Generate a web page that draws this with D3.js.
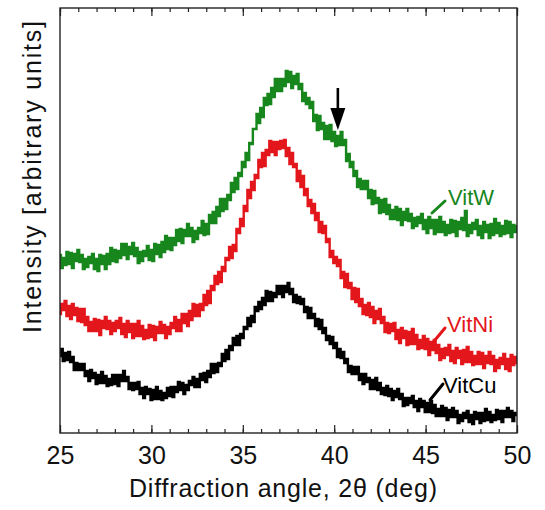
<!DOCTYPE html>
<html>
<head>
<meta charset="utf-8">
<script src="https://cdn.jsdelivr.net/npm/d3@7"></script>
<style>
  html, body { margin: 0; padding: 0; background: #fff; }
  svg { display: block; }
  text { font-family: "Liberation Sans", Arial, sans-serif; }
</style>
</head>
<body>
<svg id="chart" width="545" height="510"></svg>
<script>
// ---- data (2θ from 25 to 50 deg, step 0.1 deg; intensities in arbitrary units, offset stack) ----
const angleStart = 25, angleStep = 0.1;
const xTicks = [25, 30, 35, 40, 45, 50];

const vitW = [
178,165,175,168,181, 169,180,165,179,172, 183,171,178,164,174, 166,176,170,179,164,
174,162,178,169,177, 164,179,169,185,172, 183,171,182,175,189, 178,189,174,186,179,
190,177,185,170,181, 172,182,177,187,173, 183,172,189,179,188, 176,191,181,197,184,
195,183,195,188,203, 192,204,190,203,197, 209,197,205,191,202, 194,205,200,212,198,
209,199,218,210,221, 210,226,217,234,222, 234,224,238,233,250, 241,255,244,260,257,
271,266,280,273,290, 289,304,304,319,310, 325,316,335,328,339, 329,345,336,354,342,
354,342,354,347,362, 351,361,345,357,349, 359,344,349,332,340, 329,335,325,331,312,
318,303,317,304,310, 294,307,294,308,292, 301,287,297,288,301, 288,293,272,279,266,
271,257,262,246,254, 244,252,244,252,235, 243,229,242,230,235, 220,233,221,234,219,
228,214,223,214,226, 213,224,208,221,213, 224,212,219,205,215, 207,216,210,219,204,
213,200,216,205,213, 199,213,201,216,201, 211,198,208,200,213, 201,212,197,211,204,
215,203,222,197,208, 200,210,204,213,198, 207,195,211,201,208, 195,209,198,214,200,
210,197,207,199,212, 200,211,196,208,201, 207];

const vitNi = [
119,129,123,132,117, 127,114,129,118,125, 112,124,111,124,108, 116,102,111,102,114,
102,113,98,112,105, 116,104,112,99,110, 102,112,105,115,99, 109,96,112,101,109,
95,109,97,112,97, 107,94,103,95,108, 96,107,93,106,100, 111,100,108,95,106,
99,110,105,116,102, 113,102,119,110,119, 107,122,113,129,117, 128,117,129,123,138,
128,142,130,147,143, 157,149,161,151,166, 162,175,173,186,175, 188,182,204,200,214,
207,227,222,243,235, 251,243,258,255,273, 266,280,267,283,278, 292,281,291,278,291,
284,292,285,293,277, 285,269,280,266,269, 252,262,246,257,238, 244,227,233,220,229,
213,220,201,211,200, 207,191,194,176,182, 170,176,167,173,155, 161,146,159,145,150,
134,145,131,144,127, 134,119,128,118,130, 116,126,110,122,114, 124,110,116,101,110,
100,109,102,110,94, 103,90,105,95,102, 88,101,89,104,89, 98,84,93,85,97,
84,94,78,91,83, 93,80,88,73,84, 75,85,78,88,72, 82,70,85,75,82,
69,83,71,86,71, 81,68,77,69,81, 69,80,65,77,70, 81,69,77,62,73,
65,75,69,79,64, 74,62,78,68,76, 70];

const vitCu = [
77,84,72,80,73, 81,71,76,63,70, 63,69,63,69,57, 62,52,63,55,60,
49,58,50,61,50, 57,47,54,48,58, 49,58,47,58,52, 62,52,56,44,50,
43,50,44,51,39, 45,35,46,39,44, 33,43,34,46,34, 42,33,40,35,45,
37,46,36,46,41, 51,43,50,39,48, 43,52,48,56,46, 54,46,59,53,60,
51,62,56,69,60, 69,61,70,67,79, 72,83,74,87,83, 95,88,97,88,99,
95,106,104,115,107, 117,111,126,122,131, 124,135,128,142,132, 141,132,140,136,147,
139,147,136,147,141, 150,139,144,131,138, 130,136,129,134,121, 126,115,125,115,119,
107,114,104,113,100, 105,93,97,89,96, 85,90,76,84,75, 81,70,74,61,67,
59,66,59,66,53, 59,49,59,51,55, 44,53,44,55,43, 50,39,45,38,47,
37,44,33,42,36, 44,34,39,27,35, 28,35,30,37,26, 32,22,34,26,32,
21,30,21,32,20, 28,17,24,17,27, 17,25,13,23,16, 25,16,22,10,18,
12,20,15,22,11, 18,9,21,14,20, 10,20,12,24,13, 21,11,18,13,23,
14,22,11,22,16, 25,16,22,12,20, 18];

const seriesNames = ["VitW", "VitNi", "VitCu"];
const seriesColors = ["#17861c", "#e3161b", "#000000"];
const arrowMark = {x: 40.2, yTop: 345, yTip: 303};

// ---- layout ----
const svg = d3.select("#chart");
const L = 60, R = 517, T = 8, B = 433;
const x = d3.scaleLinear().domain([25, 50]).range([L, R]);
const y = d3.scaleLinear().domain([0, 425]).range([B, T]);

const series = [vitW, vitNi, vitCu];

const line = d3.line()
  .curve(d3.curveStep)
  .x((d, i) => x(angleStart + i * angleStep))
  .y(d => y(d));

const g = svg.append("g");

svg.append("defs").append("clipPath").attr("id", "clip")
  .append("rect").attr("x", L).attr("y", T).attr("width", R - L).attr("height", B - T);

const plot = g.append("g").attr("clip-path", "url(#clip)");
series.forEach((s, k) => {
  plot.append("path")
    .datum(s)
    .attr("d", line)
    .attr("fill", "none")
    .attr("stroke", seriesColors[k])
    .attr("stroke-width", 2.4)
    .attr("stroke-linejoin", "miter");
});

// frame
g.append("rect")
  .attr("x", L).attr("y", T).attr("width", R - L).attr("height", B - T)
  .attr("fill", "none").attr("stroke", "#222").attr("stroke-width", 1.4);

// x axes (bottom + top), inward ticks
const minor = d3.range(25, 50.001, 1);
const axB = d3.axisBottom(x).tickValues(minor).tickSize(-4).tickFormat("");
const axBMaj = d3.axisBottom(x).tickValues(xTicks).tickSize(-8).tickPadding(13).tickFormat(d3.format("d"));
const axT = d3.axisTop(x).tickValues(minor).tickSize(-4).tickFormat("");
const axTMaj = d3.axisTop(x).tickValues(xTicks).tickSize(-8).tickFormat("");

[ [axB, B], [axBMaj, B], [axT, T], [axTMaj, T] ].forEach(([ax, ty]) => {
  const a = g.append("g").attr("transform", `translate(0,${ty})`).call(ax);
  a.select(".domain").remove();
  a.selectAll(".tick line").attr("stroke", "#222").attr("stroke-width", 1.2);
  a.selectAll("text").attr("font-size", 25).attr("fill", "#111")
    .attr("font-family", '"Liberation Sans", Arial, sans-serif');
});

// axis titles
g.append("text")
  .attr("x", 283).attr("y", 497)
  .attr("text-anchor", "middle")
  .attr("font-size", 25).attr("fill", "#111")
  .attr("textLength", 308).attr("lengthAdjust", "spacing")
  .text("Diffraction angle, 2\u03B8 (deg)");

g.append("text")
  .attr("transform", "translate(41,177) rotate(-90)")
  .attr("text-anchor", "middle")
  .attr("font-size", 25).attr("fill", "#111")
  .attr("textLength", 312).attr("lengthAdjust", "spacing")
  .text("Intensity [arbitrary units]");

// series labels with leader lines
const leaderPix = [
  [[432, 213], [445, 201]],
  [[430, 346], [445, 328]],
  [[430, 400], [443, 384]]
];
const labelPix = [[448, 205], [447, 332], [443, 393]];
seriesNames.forEach((n, k) => {
  g.append("line")
    .attr("x1", leaderPix[k][0][0]).attr("y1", leaderPix[k][0][1])
    .attr("x2", leaderPix[k][1][0]).attr("y2", leaderPix[k][1][1])
    .attr("stroke", seriesColors[k]).attr("stroke-width", 3).attr("stroke-linecap", "round");
  g.append("text")
    .attr("x", labelPix[k][0]).attr("y", labelPix[k][1])
    .attr("font-size", 22).attr("fill", seriesColors[k])
    .text(n);
});

// arrow marking the shoulder
const ax0 = x(arrowMark.x);
g.append("line")
  .attr("x1", ax0).attr("x2", ax0)
  .attr("y1", y(arrowMark.yTop)).attr("y2", y(arrowMark.yTip) - 12)
  .attr("stroke", "#000").attr("stroke-width", 2.6);
g.append("path")
  .attr("d", `M${ax0 - 7.5},${y(arrowMark.yTip) - 22} L${ax0 + 7.5},${y(arrowMark.yTip) - 22} L${ax0},${y(arrowMark.yTip)} Z`)
  .attr("fill", "#000");
</script>
</body>
</html>
